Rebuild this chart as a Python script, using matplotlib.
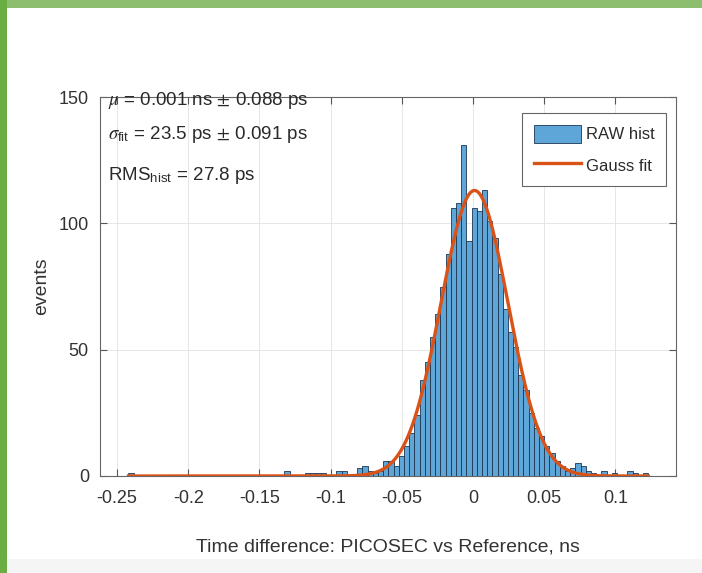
import numpy as np
import matplotlib
matplotlib.use("Agg")
import matplotlib.pyplot as plt
from matplotlib.patches import Rectangle

plt.rcParams['font.family'] = ['Liberation Sans', 'DejaVu Sans']
plt.rcParams['mathtext.fontset'] = 'stix'

# histogram: 100 equal bins over the data range
bin_start = -0.242
bin_width = 0.00365
counts = [1, 0, 0, 0, 0, 0, 0, 0, 0, 0,
          0, 0, 0, 0, 0, 0, 0, 0, 0, 0,
          0, 0, 0, 0, 0, 0, 0, 0, 0, 0,
          2, 0, 0, 0, 1, 1, 1, 1, 0, 0,
          2, 2, 0, 0, 3, 4, 2, 1, 2, 6,
          6, 4, 8, 12, 17, 24, 38, 45, 55, 64,
          75, 88, 106, 108, 131, 93, 106, 105, 113, 101,
          94, 80, 66, 57, 51, 40, 34, 25, 19, 16,
          12, 9, 6, 4, 2, 3, 5, 4, 2, 1,
          0, 2, 0, 1, 0, 0, 2, 1, 0, 1]

# gauss fit parameters (ns)
fit_mu = 0.001
fit_sigma = 0.0235
fit_amp = 113

xticks = [-0.25, -0.2, -0.15, -0.1, -0.05, 0, 0.05, 0.1]
xtick_labels = ['-0.25', '-0.2', '-0.15', '-0.1', '-0.05', '0', '0.05', '0.1']
yticks = [0, 50, 100, 150]

edges = bin_start + bin_width * np.arange(len(counts) + 1)
centers = 0.5 * (edges[:-1] + edges[1:])

fig = plt.figure(figsize=(7.02, 5.73), dpi=100)
ax = fig.add_axes([100/702, 1 - 476/573, 576/702, 379/573])

bars = ax.bar(centers, counts, width=bin_width, color='#5ea6d8', edgecolor='#1e3550',
              linewidth=0.6, label='RAW hist', zorder=2)

xf = np.linspace(edges[0], edges[-1], 600)
yf = fit_amp * np.exp(-(xf - fit_mu)**2 / (2 * fit_sigma**2))
line, = ax.plot(xf, yf, color='#d95319', linewidth=2.4, label='Gauss fit', zorder=3)

ax.set_xlim(-0.262, 0.1425)
ax.set_ylim(0, 150)
ax.set_xticks(xticks)
ax.set_xticklabels(xtick_labels)
ax.set_yticks(yticks)
ax.set_axisbelow(True)
ax.grid(True, color='#e2e2e2', linewidth=0.6)
ax.tick_params(direction='in', top=True, right=True, length=5, width=0.8,
               color='#555555', labelcolor='#333333', labelsize=13)
ax.tick_params(axis='x', pad=10)
ax.tick_params(axis='y', pad=8)
for s in ax.spines.values():
    s.set_color('#666666')
    s.set_linewidth(0.8)

ax.set_xlabel('Time difference: PICOSEC vs Reference, ns', fontsize=14,
              color='#333333', labelpad=23)
ax.set_ylabel('events', fontsize=14, color='#333333', labelpad=6)

tc = '#2a2a2a'
ax.text(0.014, 0.979, r'$\mu$ = 0.001 ns $\pm$ 0.088 ps', transform=ax.transAxes,
        fontsize=13.5, color=tc, va='baseline', zorder=5)
ax.text(0.014, 0.889, r'$\sigma_{\mathregular{fit}}$ = 23.5 ps $\pm$ 0.091 ps',
        transform=ax.transAxes, fontsize=13.5, color=tc, va='baseline', zorder=5)
ax.text(0.014, 0.781, r'RMS$_{\mathregular{hist}}$ = 27.8 ps', transform=ax.transAxes,
        fontsize=13.5, color=tc, va='baseline', zorder=5)

leg = ax.legend([bars, line], ['RAW hist', 'Gauss fit'], loc='upper right',
                bbox_to_anchor=(0.983, 0.958), borderaxespad=0,
                fontsize=12, fancybox=False, framealpha=1, edgecolor='#666666',
                handlelength=2.8, handleheight=1.3, labelspacing=0.8,
                handletextpad=0.3, borderpad=0.7)
leg.get_frame().set_linewidth(0.8)
for t in leg.get_texts():
    t.set_color('#2a2a2a')

# screenshot frame
fig.add_artist(Rectangle((0, 1 - 8/573), 1, 8/573, transform=fig.transFigure,
                         facecolor='#8dbd6f', edgecolor='none', zorder=10))
fig.add_artist(Rectangle((0, 0), 7/702, 1, transform=fig.transFigure,
                         facecolor='#6aad43', edgecolor='none', zorder=11))
fig.add_artist(Rectangle((7/702, 0), 1, 14/573, transform=fig.transFigure,
                         facecolor='#f5f5f5', edgecolor='none', zorder=-5))

fig.savefig('out.png', dpi=100)
